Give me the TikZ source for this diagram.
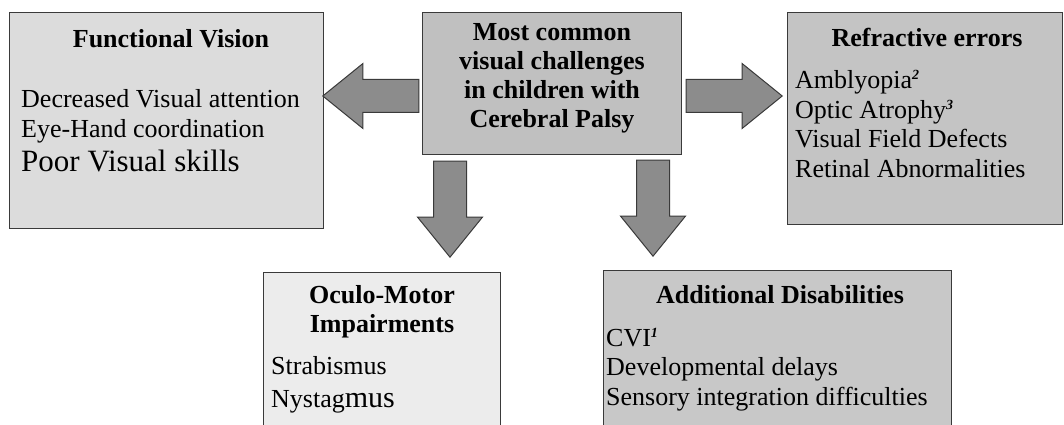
\documentclass[tikz,border=0pt]{standalone}
\usepackage{fontspec}
\setmainfont{Liberation Serif}
\usetikzlibrary{shapes.arrows}

\definecolor{boxline}{HTML}{3A3A3A}
\definecolor{arrowline}{HTML}{3A3A3A}
\definecolor{arrowgray}{HTML}{8C8C8C}
\definecolor{funcgray}{HTML}{DCDCDC}
\definecolor{maingray}{HTML}{C0C0C0}
\definecolor{refrgray}{HTML}{C4C4C4}
\definecolor{motorgray}{HTML}{ECECEC}
\definecolor{addlgray}{HTML}{C8C8C8}

\newcommand{\fnmark}[1]{\raisebox{9pt}{\fontsize{14}{14}\selectfont\bfseries\itshape #1}}

\tikzset{
  box/.style={draw=boxline, line width=1.2pt, anchor=north west, inner sep=0pt},
  bigarrow/.style={single arrow, draw=arrowline, fill=arrowgray, line width=1pt,
    minimum height=96pt, single arrow head extend=16pt,
    single arrow tip angle=78, single arrow head indent=0pt,
    inner xsep=0pt, inner ysep=16pt, anchor=tip},
  headtext/.style={font=\fontsize{26}{29}\selectfont\bfseries, align=center, anchor=base, inner sep=0pt},
  listtext/.style={font=\fontsize{26}{29.5}\selectfont, align=left, anchor=base west, inner sep=0pt}
}

\begin{document}
\begin{tikzpicture}[x=1pt, y=-1pt]
    \useasboundingbox (0,0) rectangle (1064,425);
    \clip (0,0) rectangle (1064,425);

    % Boxes
    \node[box, fill=funcgray, minimum width=314pt, minimum height=216pt] (func) at (9,12) {};
    \node[box, fill=maingray, minimum width=259pt, minimum height=142pt] (main) at (422,12) {};
    \node[box, fill=refrgray, minimum width=275pt, minimum height=212pt] (refr) at (787,12) {};
    \node[box, fill=motorgray, minimum width=237pt, minimum height=180pt] (motor) at (263,272) {};
    \node[box, fill=addlgray, minimum width=348pt, minimum height=180pt] (addl) at (603,270) {};

    % Centre box text (anchored on its last line)
    \node[headtext] (mainhead) at (552,128) {Most common\\visual challenges\\in children with\\Cerebral Palsy};

    % Functional vision
    \node[headtext] (funchead) at (171,48) {Functional Vision};
    \node[listtext] (funclist) at (21,171) {Decreased Visual attention\\Eye-Hand coordination\\[4pt]{\fontsize{31}{34}\selectfont Poor Visual skills}};

    % Refractive errors
    \node[headtext] (refrhead) at (927,47) {Refractive errors};
    \node[listtext] (refrlist) at (795,177) {Amblyopia\fnmark{2}\\Optic Atrophy\fnmark{3}\\Visual Field Defects\\Retinal Abnormalities};

    % Oculo-motor
    \node[headtext] (motorhead) at (382,332) {Oculo-Motor\\Impairments};
    \node[listtext] (motorlist) at (271,407) {Strabismus\\[3pt]Nystag{\fontsize{30}{32}\selectfont mus}};

    % Additional disabilities
    \node[headtext] (addlhead) at (780,303) {Additional Disabilities};
    \node[listtext] (addllist) at (606,405) {CVI\fnmark{1}\\Developmental delays\\Sensory integration difficulties};

    % Block arrows (placed by their tips)
    \node[bigarrow, rotate=180] (tofunc) at (322,96) {};
    \node[bigarrow] (torefr) at (783,96) {};
    \node[bigarrow, rotate=270] (tomotor) at (450,258) {};
    \node[bigarrow, rotate=270] (toaddl) at (653,257) {};

\end{tikzpicture}
\end{document}
